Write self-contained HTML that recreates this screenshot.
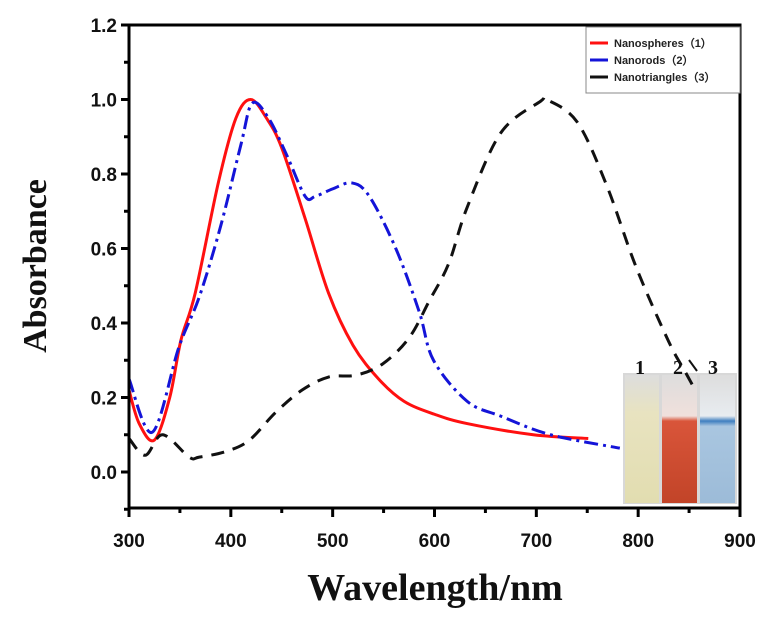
<!DOCTYPE html>
<html><head><meta charset="utf-8"><style>
html,body{margin:0;padding:0;background:#fff;}
svg{display:block;}
.tk{font-family:"Liberation Sans",sans-serif;font-weight:bold;font-size:19px;fill:#111;}
.tt{font-family:"Liberation Serif",serif;font-weight:bold;fill:#111;}
.lg{font-family:"Liberation Sans",sans-serif;font-weight:bold;font-size:11px;fill:#222;}
</style></head><body>
<svg id="chart" width="769" height="623" viewBox="0 0 769 623">
<defs><linearGradient id="g1" x1="0" x2="0" y1="0" y2="1"><stop offset="0" stop-color="#ddd"/><stop offset="0.3" stop-color="#e8e3c0"/><stop offset="1" stop-color="#e2ddb0"/></linearGradient>
<linearGradient id="g2" x1="0" x2="0" y1="0" y2="1"><stop offset="0" stop-color="#ddd"/><stop offset="0.32" stop-color="#f0e0dc"/><stop offset="0.36" stop-color="#d9553a"/><stop offset="1" stop-color="#c24428"/></linearGradient>
<linearGradient id="g3" x1="0" x2="0" y1="0" y2="1"><stop offset="0" stop-color="#ddd"/><stop offset="0.32" stop-color="#e8ecf0"/><stop offset="0.36" stop-color="#3f7fc0"/><stop offset="0.4" stop-color="#a9c6e0"/><stop offset="1" stop-color="#9cbbd8"/></linearGradient></defs>
<g id="plot"></g>
</svg>
<script>
const redX=[300,310,325,340,351,365,388,405,419.5,435,450,473,496,520,545,570,600,632,697,751];
const redY=[0.22,0.13,0.086,0.2,0.354,0.48,0.78,0.95,1.0,0.95,0.87,0.68,0.48,0.34,0.25,0.19,0.155,0.13,0.10,0.09];
const blueX=[300,323,349,369,390,410,421,437,455,473,483,500,519,536,562,585,599,632,665,714,782];
const blueY=[0.25,0.107,0.335,0.47,0.66,0.88,0.99,0.95,0.85,0.74,0.74,0.76,0.776,0.74,0.60,0.43,0.30,0.19,0.15,0.10,0.064];
const blackX=[300,316,333,359,369,395,418,444,470,496,523,549,575,595,614,632,665,704,710,740,769,798,830,846,856];
const blackY=[0.09,0.045,0.10,0.04,0.04,0.055,0.085,0.16,0.22,0.255,0.26,0.29,0.36,0.46,0.56,0.71,0.91,0.995,1.0,0.94,0.77,0.55,0.35,0.27,0.22];
const yTicks=[0.0,0.2,0.4,0.6,0.8,1.0,1.2];
const yTickLabels=["0.0","0.2","0.4","0.6","0.8","1.0","1.2"];
const xTicks=[300,400,500,600,700,800,900];
const xTickLabels=["300","400","500","600","700","800","900"];
const legendLabels=["Nanospheres（1）","Nanorods（2）","Nanotriangles（3）"];

const NS="http://www.w3.org/2000/svg";
const L=129,R=740,T=25,B=508;
function sx(w){return L+(w-300)*(R-L)/600;}
function sy(a){return 472-a*372.5;}
const g=document.getElementById('plot');
function mk(tag,attrs,parent){const e=document.createElementNS(NS,tag);for(const k in attrs)e.setAttribute(k,attrs[k]);(parent||g).appendChild(e);return e;}
function pathFrom(xs,ys){const p=xs.map((x,i)=>[sx(x),sy(ys[i])]);let d="M"+p[0][0]+","+p[0][1];
for(let i=0;i<p.length-1;i++){const p0=p[i-1]||p[i],p1=p[i],p2=p[i+1],p3=p[i+2]||p2;
const c1=[p1[0]+(p2[0]-p0[0])/6,p1[1]+(p2[1]-p0[1])/6],c2=[p2[0]-(p3[0]-p1[0])/6,p2[1]-(p3[1]-p1[1])/6];
d+=" C"+c1[0]+","+c1[1]+" "+c2[0]+","+c2[1]+" "+p2[0]+","+p2[1];}return d;}

// inset photo
const ins=mk('g',{});


mk('rect',{x:623,y:373,width:114,height:131,fill:'#d8d8d8'},ins);
mk('rect',{x:625,y:375,width:34,height:128,fill:'url(#g1)'},ins);
mk('rect',{x:662,y:375,width:35,height:128,fill:'url(#g2)'},ins);
mk('rect',{x:700,y:375,width:35,height:128,fill:'url(#g3)'},ins);
[["1",640],["2",678],["3",713]].forEach(([t,x])=>{const e=mk('text',{x:x,y:374,'class':'tt','font-size':'20','text-anchor':'middle'},ins);e.textContent=t;

});
mk('line',{x1:689,y1:360,x2:697,y2:371,stroke:'#111','stroke-width':2},ins);

// series
const red=mk('path',{d:pathFrom(redX,redY),fill:'none',stroke:'#ff1010','stroke-width':3});


const blue=mk('path',{d:pathFrom(blueX,blueY),fill:'none',stroke:'#1414d8','stroke-width':3,'stroke-dasharray':'14 5 3 5'});


const blk=mk('path',{d:pathFrom(blackX,blackY),fill:'none',stroke:'#111','stroke-width':3,'stroke-dasharray':'13 9'});



// axes frame
const fr=mk('rect',{x:L,y:T,width:R-L,height:B-T,fill:'none',stroke:'#000','stroke-width':3});


yTicks.forEach((v,i)=>{mk('line',{x1:L-8,x2:L,y1:sy(v),y2:sy(v),stroke:'#000','stroke-width':3});
const t=mk('text',{x:L-12,y:sy(v)+7,'class':'tk','text-anchor':'end'});t.textContent=yTickLabels[i];


const m=v+0.1;if(m<1.2)mk('line',{x1:L-5,x2:L,y1:sy(m),y2:sy(m),stroke:'#000','stroke-width':3});});
mk('line',{x1:L-5,x2:L,y1:sy(-0.1),y2:sy(-0.1),stroke:'#000','stroke-width':3});
xTicks.forEach((v,i)=>{mk('line',{x1:sx(v),x2:sx(v),y1:B,y2:B+9,stroke:'#000','stroke-width':3});
const t=mk('text',{x:sx(v),y:B+39,'class':'tk','text-anchor':'middle'});t.textContent=xTickLabels[i];


if(v<900)mk('line',{x1:sx(v+50),x2:sx(v+50),y1:B,y2:B+5,stroke:'#000','stroke-width':3});});

const xt=mk('text',{x:435,y:600,'class':'tt','font-size':'38','text-anchor':'middle'});xt.textContent="Wavelength/nm";


const yt=mk('text',{x:0,y:0,'class':'tt','font-size':'34','text-anchor':'middle',transform:'translate(46,266) rotate(-90)'});yt.textContent="Absorbance";



// legend
const lg=mk('g',{});


mk('rect',{x:586,y:27,width:154,height:66,fill:'#fff',stroke:'#888','stroke-width':1},lg);
const cols=['#ff1010','#1414d8','#111'];
legendLabels.forEach((s,i)=>{const y=43+i*17;
mk('line',{x1:590,x2:608,y1:y,y2:y,stroke:cols[i],'stroke-width':3},lg);
const t=mk('text',{x:614,y:y+4,'class':'lg'},lg);t.textContent=s;

});
</script>
</body></html>
